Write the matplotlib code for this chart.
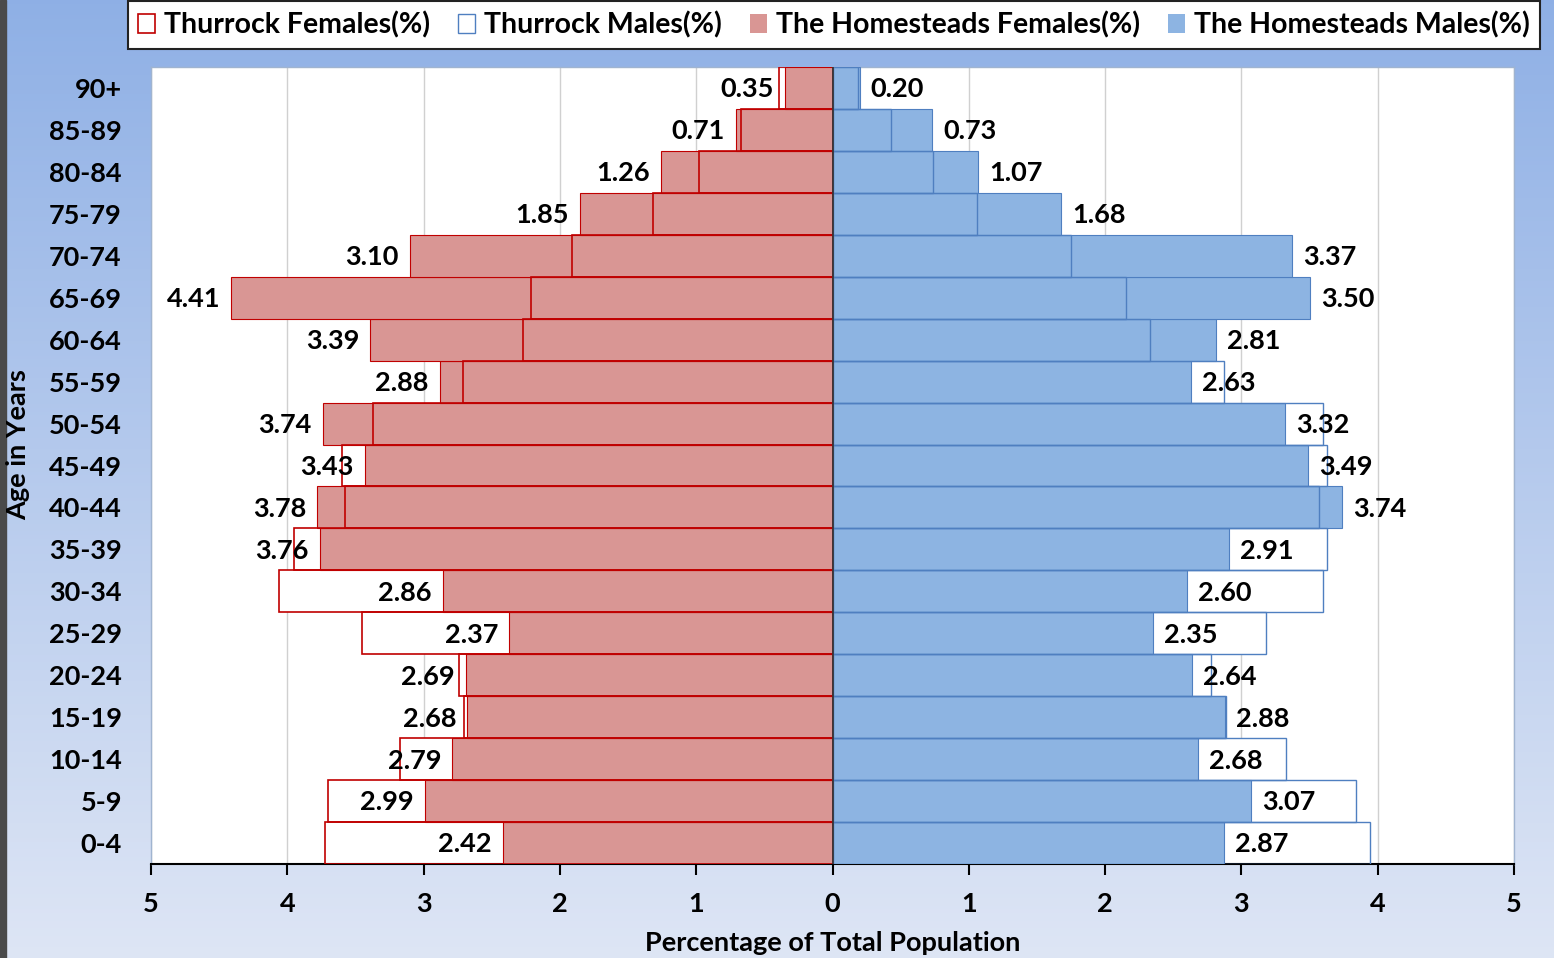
import matplotlib.pyplot as plt
from matplotlib.patches import Patch, Rectangle
from matplotlib.ticker import FuncFormatter
import numpy as np

ages = ['0-4', '5-9', '10-14', '15-19', '20-24', '25-29', '30-34', '35-39', '40-44',
        '45-49', '50-54', '55-59', '60-64', '65-69', '70-74', '75-79', '80-84',
        '85-89', '90+']

# The Homesteads (filled bars, labelled)
hs_females = [2.42, 2.99, 2.79, 2.68, 2.69, 2.37, 2.86, 3.76, 3.78, 3.43, 3.74, 2.88,
              3.39, 4.41, 3.10, 1.85, 1.26, 0.71, 0.35]
hs_males = [2.87, 3.07, 2.68, 2.88, 2.64, 2.35, 2.60, 2.91, 3.74, 3.49, 3.32, 2.63,
            2.81, 3.50, 3.37, 1.68, 1.07, 0.73, 0.20]

# Thurrock (outline bars)
th_females = [3.72, 3.70, 3.17, 2.70, 2.74, 3.45, 4.06, 3.95, 3.58, 3.60, 3.37, 2.71,
              2.27, 2.21, 1.91, 1.32, 0.98, 0.67, 0.39]
th_males = [3.94, 3.84, 3.33, 2.89, 2.78, 3.18, 3.60, 3.63, 3.57, 3.63, 3.60, 2.87,
            2.33, 2.15, 1.75, 1.06, 0.74, 0.43, 0.19]

xticks = [-5, -4, -3, -2, -1, 0, 1, 2, 3, 4, 5]

plt.rcParams['font.family'] = ['Lato', 'DejaVu Sans']
plt.rcParams['font.weight'] = 'bold'
FS = 19.5

red_fill = '#d99694'
red_edge = '#c00000'
blue_fill = '#8db4e2'
blue_edge = '#4f7fc0'

fig = plt.figure(figsize=(15.54, 9.58), dpi=100)

# gradient background
bg = fig.add_axes([0, 0, 1, 1], zorder=-10)
grad = np.linspace(0, 1, 256).reshape(-1, 1)
top = np.array([0.56, 0.69, 0.90])
bot = np.array([0.87, 0.90, 0.96])
img = top[None, None, :] * (1 - grad[:, :, None]) + bot[None, None, :] * grad[:, :, None]
bg.imshow(img, aspect='auto', extent=[0, 1, 0, 1])
bg.add_patch(Rectangle((0, 0), 0.004, 1, color='#4a4a4a'))
bg.set_xlim(0, 1)
bg.set_ylim(0, 1)
bg.axis('off')

ax = fig.add_axes([151 / 1554, 1 - 864 / 958, (1514 - 151) / 1554, (864 - 67) / 958])
ax.set_facecolor('white')

y = np.arange(len(ages))
hf = -np.array(hs_females)
tf = -np.array(th_females)

# Thurrock white bodies behind
ax.barh(y, tf, height=1.0, color='white', edgecolor='none', zorder=2)
ax.barh(y, th_males, height=1.0, color='white', edgecolor='none', zorder=2)
# Homesteads filled
ax.barh(y, hf, height=1.0, color=red_fill, edgecolor=red_edge, linewidth=0.8, zorder=3)
ax.barh(y, hs_males, height=1.0, color=blue_fill, edgecolor=blue_edge, linewidth=0.8, zorder=3)
# Thurrock outlines on top
ax.barh(y, tf, height=1.0, fill=False, edgecolor=red_edge, linewidth=1.2, zorder=4)
ax.barh(y, th_males, height=1.0, fill=False, edgecolor=blue_edge, linewidth=1.0, zorder=4)

for yi, v in zip(y, hs_females):
    ax.annotate('%.2f' % v, (-v, yi), xytext=(-8, -1), textcoords='offset points',
                ha='right', va='center', fontsize=FS, fontweight='bold', zorder=6)
for yi, v in zip(y, hs_males):
    ax.annotate('%.2f' % v, (v, yi), xytext=(8, -1), textcoords='offset points',
                ha='left', va='center', fontsize=FS, fontweight='bold', zorder=6)

ax.axvline(0, color='#333333', linewidth=1.2, zorder=5)

ax.set_xlim(-5, 5)
ax.set_ylim(-0.5, len(ages) - 0.5)
ax.set_xticks(xticks)
ax.xaxis.set_major_formatter(FuncFormatter(lambda v, p: '%d' % abs(v)))
ax.set_yticks(y)
ax.set_yticklabels(ages)
ax.tick_params(axis='x', direction='out', length=8, width=1.5, labelsize=FS, pad=12)
ax.tick_params(axis='y', length=0, labelsize=FS, pad=21)
ax.grid(axis='x', color='#d0d0d0', linewidth=1.0, zorder=0)
ax.set_axisbelow(True)

for s in ['top', 'right', 'left']:
    ax.spines[s].set_color('#a0b4d0')
    ax.spines[s].set_linewidth(1.0)
ax.spines['bottom'].set_color('black')
ax.spines['bottom'].set_linewidth(1.5)

ax.set_xlabel('Percentage of Total Population', fontsize=FS, fontweight='bold', labelpad=11)
fig.text(18 / 1554, 1 - 445 / 958, 'Age in Years', rotation=90, ha='center', va='center',
         fontsize=FS, fontweight='bold')

handles = [Patch(facecolor='white', edgecolor=red_edge, linewidth=1.2),
           Patch(facecolor='white', edgecolor=blue_edge, linewidth=1.0),
           Patch(facecolor=red_fill, edgecolor='none'),
           Patch(facecolor=blue_fill, edgecolor='none')]
labels = ['Thurrock Females(%)', 'Thurrock Males(%)', 'The Homesteads Females(%)',
          'The Homesteads Males(%)']
leg = fig.legend(handles, labels, loc='center', ncol=4,
                 bbox_to_anchor=(834 / 1554, 1 - 25 / 958),
                 frameon=True, fancybox=False, handlelength=0.6,
                 handleheight=0.6, handletextpad=0.3, columnspacing=1.0,
                 borderpad=0.35, prop={'weight': 'bold', 'size': 20.5})
leg.get_frame().set_edgecolor('#222222')
leg.get_frame().set_linewidth(1.5)
leg.get_frame().set_alpha(1.0)

plt.savefig('out.png', dpi=100)
